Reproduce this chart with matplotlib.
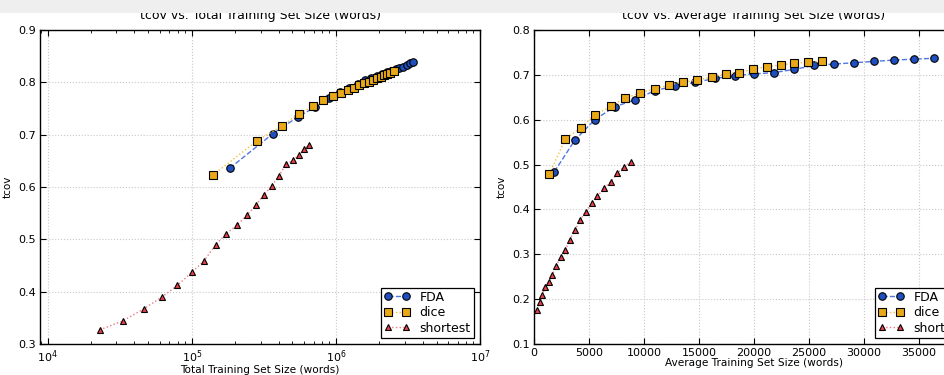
import matplotlib
matplotlib.use("Agg")
import matplotlib.pyplot as plt
from matplotlib.patches import Rectangle
from matplotlib.ticker import LogLocator, MultipleLocator, NullFormatter

# ---------------- data: left panel (total training set size) ----------------
fda_total_x = [183600, 366000, 545000, 722000, 893000, 1071000, 1238000, 1422000,
               1582000, 1760000, 1927000, 2090000, 2260000, 2430000, 2600000,
               2760000, 2930000, 3100000, 3260000, 3430000]
fda_total_y = [0.636, 0.702, 0.734, 0.753, 0.771, 0.781, 0.790, 0.797, 0.805, 0.808,
               0.813, 0.816, 0.819, 0.822, 0.825, 0.828, 0.830, 0.833, 0.836, 0.839]

dice_total_x = [140600, 283000, 422000, 556000, 692000, 820000, 948000, 1077000,
                1212000, 1326000, 1444000, 1566000, 1685000, 1808000, 1936000,
                2054000, 2166000, 2270000, 2383000, 2529000]
dice_total_y = [0.623, 0.688, 0.717, 0.740, 0.754, 0.766, 0.773, 0.779, 0.785, 0.790,
                0.794, 0.798, 0.801, 0.804, 0.808, 0.811, 0.814, 0.815, 0.818, 0.822]

short_total_x = [23000, 33200, 46400, 62200, 79500, 100000, 121000, 146700, 174000,
                 205600, 241000, 278000, 316000, 359500, 402000, 452000, 505000,
                 553000, 603000, 656000]
short_total_y = [0.327, 0.344, 0.367, 0.390, 0.412, 0.437, 0.458, 0.490, 0.511, 0.527,
                 0.546, 0.565, 0.585, 0.602, 0.621, 0.644, 0.651, 0.661, 0.672, 0.681]

# ---------------- data: right panel (average training set size) ----------------
fda_avg_x = [1850, 3700, 5520, 7340, 9160, 10980, 12800, 14620, 16440, 18260,
             19990, 21810, 23630, 25450, 27270, 29090, 30910, 32730, 34550, 36370]
fda_avg_y = [0.484, 0.554, 0.600, 0.629, 0.644, 0.665, 0.675, 0.683, 0.692, 0.698,
             0.702, 0.705, 0.712, 0.721, 0.724, 0.727, 0.730, 0.733, 0.735, 0.737]

dice_avg_x = [1395, 2850, 4250, 5590, 6980, 8310, 9650, 10980, 12260, 13560,
              14830, 16140, 17410, 18650, 19920, 21170, 22410, 23660, 24930, 26150]
dice_avg_y = [0.479, 0.557, 0.582, 0.611, 0.630, 0.648, 0.660, 0.669, 0.677, 0.684,
              0.688, 0.695, 0.702, 0.705, 0.713, 0.718, 0.722, 0.726, 0.728, 0.730]

short_avg_x = [303, 515, 758, 1031, 1334, 1668, 2032, 2426, 2851, 3245,
               3730, 4216, 4701, 5247, 5763, 6369, 6976, 7583, 8159, 8796]
short_avg_y = [0.176, 0.193, 0.210, 0.228, 0.239, 0.254, 0.275, 0.295, 0.309, 0.332,
               0.355, 0.377, 0.395, 0.414, 0.429, 0.447, 0.462, 0.481, 0.494, 0.506]

labels = ["FDA", "dice", "shortest"]
titles = ["tcov vs. Total Training Set Size (words)",
          "tcov vs. Average Training Set Size (words)"]
xlabels = ["Total Training Set Size (words)", "Average Training Set Size (words)"]

plt.rcParams['font.family'] = ['DejaVu Sans']

W, H = 944, 375
fig = plt.figure(figsize=(W / 100, H / 100), dpi=100)
fig.patch.set_facecolor("white")
fig.patches.append(Rectangle((0, 1 - 13 / H), 1, 13 / H, transform=fig.transFigure,
                             facecolor="#efefef", edgecolor="none", zorder=0))

def px_axes(l, t, r, b):
    return fig.add_axes([l / W, 1 - b / H, (r - l) / W, (b - t) / H])

ax1 = px_axes(40, 30, 480, 344)
ax2 = px_axes(534, 30, 974, 344)

blue = "#1f4fbf"
gold = "#e8a818"
red = "#e8404a"

def draw(ax, sets):
    styles = [
        dict(marker="o", color="#5078e0", mfc=blue, ls="--", ms=5.4),
        dict(marker="s", color="#f2c040", mfc=gold, ls=":", ms=5.2),
        dict(marker="^", color="#f07888", mfc=red, ls=":", ms=4.8),
    ]
    for (x, y), st, lab in zip(sets, styles, labels):
        ax.plot(x, y, marker=st["marker"], color=st["color"], ls=st["ls"], lw=1.0,
                mfc=st["mfc"], mec="black", mew=0.8, ms=st["ms"], label=lab,
                zorder=3)
    ax.grid(True, ls=":", color="#c8c8c8", lw=0.8)
    ax.set_axisbelow(True)
    ax.tick_params(which="both", direction="in", top=True, right=True,
                   labelsize=8, colors="black", pad=3)
    ax.tick_params(which="major", length=4, width=0.8)
    ax.tick_params(which="minor", length=2, width=0.6)
    for s in ax.spines.values():
        s.set_linewidth(1.0)
    leg = ax.legend(loc="lower right", fontsize=9, numpoints=2, fancybox=False,
                    framealpha=1, edgecolor="black", borderaxespad=0.5,
                    handlelength=2.0, handletextpad=0.8, borderpad=0.25,
                    labelspacing=0.2)
    leg.get_frame().set_linewidth(0.9)
    ax.set_ylabel("tcov", fontsize=7.5)
    ax.yaxis.set_label_coords(-27 / 440, 0.5)

draw(ax1, [(fda_total_x, fda_total_y), (dice_total_x, dice_total_y),
           (short_total_x, short_total_y)])
ax1.set_xscale("log")
ax1.set_xlim(10 ** 3.947, 10 ** 7)
ax1.set_ylim(0.3, 0.9)
ax1.xaxis.set_major_locator(LogLocator(base=10, numticks=10))
ax1.xaxis.set_minor_locator(LogLocator(base=10, subs=range(2, 10), numticks=100))
ax1.xaxis.set_minor_formatter(NullFormatter())
ax1.yaxis.set_major_locator(MultipleLocator(0.1))
ax1.set_title(titles[0], fontsize=9, pad=8)
ax1.set_xlabel(xlabels[0], fontsize=7.6, labelpad=0)

draw(ax2, [(fda_avg_x, fda_avg_y), (dice_avg_x, dice_avg_y),
           (short_avg_x, short_avg_y)])
ax2.set_xlim(0, 40000)
ax2.set_ylim(0.1, 0.8)
ax2.xaxis.set_major_locator(MultipleLocator(5000))
ax2.yaxis.set_major_locator(MultipleLocator(0.1))
ax2.set_title(titles[1], fontsize=9, pad=8)
ax2.set_xlabel(xlabels[1], fontsize=7.6, labelpad=0)

fig.savefig("out.png", dpi=100)
